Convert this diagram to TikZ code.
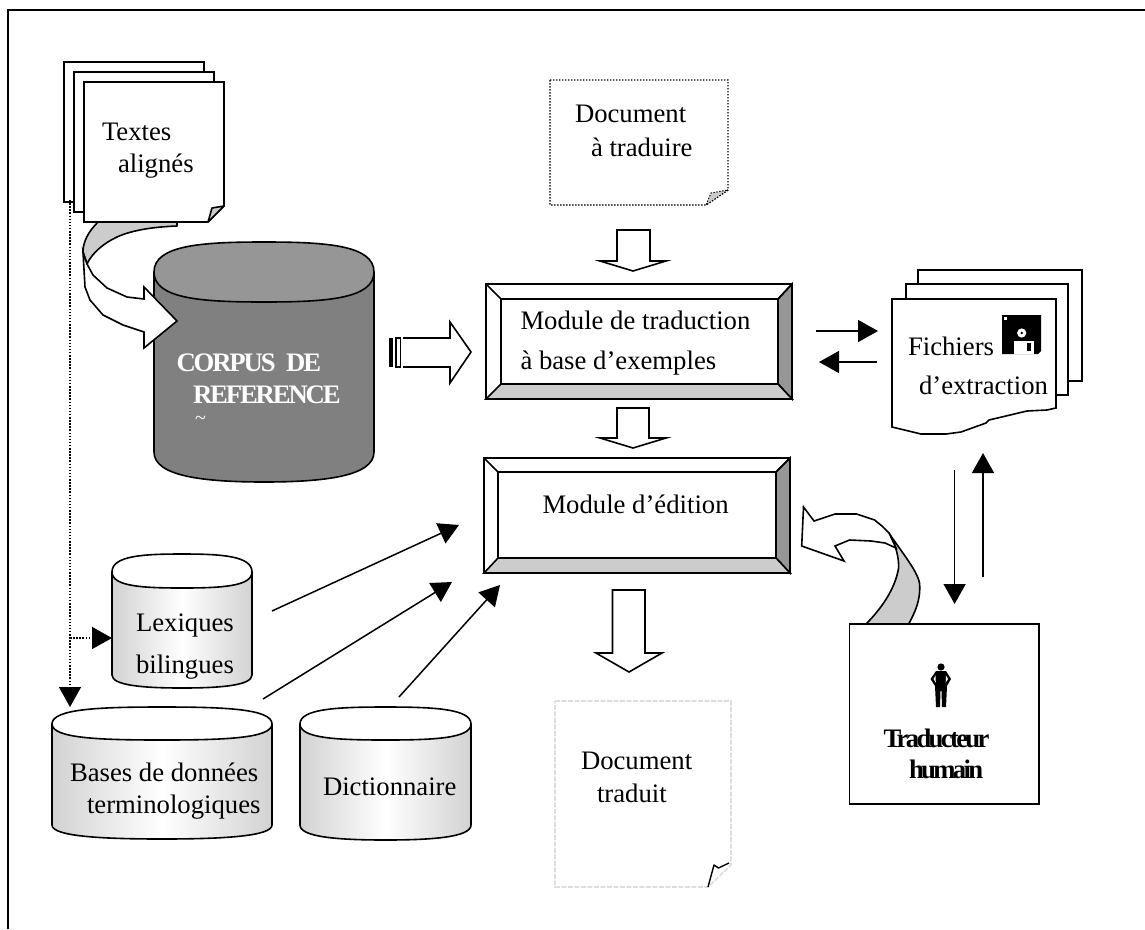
\documentclass[tikz,border=0pt]{standalone}
\usepackage{fontspec}
\setmainfont{Liberation Serif}
\usetikzlibrary{arrows.meta}
\definecolor{ribbon}{HTML}{CCCCCC}
\definecolor{bevel}{HTML}{969696}
\definecolor{corpusbody}{HTML}{808080}
\definecolor{sidegrey}{HTML}{D2D2D2}
\tikzset{
  sheet/.style={draw=black,fill=white,line width=1.6pt,line join=miter},
  shape line/.style={draw=black,line width=1.6pt,line join=round},
  hollow/.style={draw=black,fill=white,line width=1.6pt,line join=miter},
  label/.style={anchor=base west,inner sep=0pt,outer sep=0pt,text=black,font=\fontsize{26.7}{30}\selectfont},
  boldlabel/.style={label,font=\fontsize{26.7}{30}\selectfont\bfseries\addfontfeature{LetterSpace=-10}},
  corpuslabel/.style={label,text=white,font=\fontsize{26.7}{30}\selectfont\bfseries\addfontfeature{LetterSpace=-8}},
  link/.style={draw=black,line width=1.5pt,-{Triangle[length=20pt,width=22pt]}},
  dotlink/.style={draw=black,line width=1.5pt,dash pattern=on 1.5pt off 1.6pt,-{Triangle[length=20pt,width=22pt,sep=0pt]}},
}
% cylinder: style, left, right, top, mid, ellipse bottom, corner, bottom
\newcommand{\drumshape}[8]{%
  \pgfmathsetmacro{\cxm}{(#2+#3)/2}%
  \pgfmathsetmacro{\qa}{#2+(#3-#2)*.22}%
  \pgfmathsetmacro{\qb}{#3-(#3-#2)*.22}%
  \pgfmathsetmacro{\kc}{#7+(#8-#7)*.8}%
  \path[shape line,#1] (#2,#5) -- (#2,#7) .. controls (#2,\kc) and (\qa,#8) .. (\cxm,#8)
     .. controls (\qb,#8) and (#3,\kc) .. (#3,#7) -- (#3,#5) -- cycle;
}
% cylinder top: name, left, right, top, mid, ellipse bottom, fill
\newcommand{\drumtop}[7]{%
  \pgfmathsetmacro{\cxm}{(#2+#3)/2}%
  \pgfmathsetmacro{\qa}{#2+(#3-#2)*.22}%
  \pgfmathsetmacro{\qb}{#3-(#3-#2)*.22}%
  \pgfmathsetmacro{\ka}{#5-(#5-#4)*.9}%
  \pgfmathsetmacro{\kb}{#5+(#6-#5)*.9}%
  \path[shape line,fill=#7] (#2,#5) .. controls (#2,\ka) and (\qa,#4) .. (\cxm,#4)
     .. controls (\qb,#4) and (#3,\ka) .. (#3,#5)
     .. controls (#3,\kb) and (\qb,#6) .. (\cxm,#6)
     .. controls (\qa,#6) and (#2,\kb) .. (#2,#5) -- cycle;
  \coordinate (#1) at (\cxm,#5);
}
% bevelled box: left right top bottom, inner left right top bottom
\newcommand{\bevelbox}[8]{%
  \path[shape line,fill=white,line join=miter] (#1,#3) rectangle (#2,#4);
  \path[shape line,fill=bevel,line join=miter] (#2,#3) -- (#2,#4) -- (#6,#8) -- (#6,#7) -- cycle;
  \path[shape line,fill=ribbon,line join=miter] (#1,#4) -- (#2,#4) -- (#6,#8) -- (#5,#8) -- cycle;
  \path[shape line,line join=miter] (#1,#3) -- (#5,#7) (#2,#3) -- (#6,#7) (#5,#7) rectangle (#6,#8);
}
\begin{document}
\begin{tikzpicture}[x=1pt,y=-1pt]
\useasboundingbox (0,0) rectangle (1145,929);
% outer frame (left and top edges)
\draw[line width=1.8pt] (8,929) -- (8,10) -- (1145,10);

% ---- Textes alignes: stacked sheets
\path[sheet] (64,62) rectangle (204,202);
\path[sheet] (74,72) rectangle (214,212);

% ---- main cylinder
\drumshape{fill=corpusbody}{154}{374}{242}{272}{302}{452}{482}
\drumtop{main}{154}{374}{242}{272}{302}{bevel}

% ---- curved arrow from texts to corpus
\path[shape line,fill=ribbon] (98,222) .. controls (88,232) and (83,242) .. (83,252) -- (87,264)
   .. controls (92,253) and (104,243) .. (117,237) .. controls (130,231) and (150,227) .. (177,226) -- (177,222) -- cycle;
\path[shape line,fill=white,line join=miter] (83,252) -- (85,287) -- (90,300) -- (103,315) -- (123,325) -- (144,332)
   -- (144,348) -- (177,321) -- (144,287) -- (144,299) -- (127,297) -- (107,288) -- (93,275) -- (87,264) -- cycle;

\path[sheet] (84,82) -- (224,82) -- (224,206) -- (208,222) -- (84,222) -- cycle;
\path[shape line,fill=ribbon] (224,206) -- (208,222) -- (212,208) -- cycle;

\node[label] (textes) at (102,140) {Textes};
\node[label] (alignes) at (118,172) {alignés};

\node[corpuslabel] (corpus) at (176.5,371) {CORPUS\hspace{6pt} DE};
\node[corpuslabel] (reference) at (193,403) {REFERENCE};
\node[anchor=base west,inner sep=0pt,text=white,font=\fontsize{20}{22}\selectfont] (tilde) at (195,424) {\char"007E};

% ---- striped arrow corpus -> translation module
\fill (389,338) rectangle (393,367);
\path[draw=black,fill=white,line width=1.2pt] (396,338) rectangle (400.5,367);
\path[hollow] (403,338) -- (450,338) -- (450,322) -- (471,352) -- (450,383) -- (450,367) -- (403,367);

% ---- document a traduire
\path[draw=black,line width=1.4pt,dash pattern=on 1.4pt off 1.6pt] (550,80) -- (728,80) -- (728,190) -- (706,205) -- (550,205) -- cycle;
\path[fill=ribbon,draw=black,line width=1pt,dash pattern=on 1.4pt off 1.6pt] (728,190) -- (706,205) -- (711,193) -- cycle;
\node[label] (doca) at (575,122) {Document};
\node[label] (docb) at (591,156) {à traduire};

% ---- block arrows
\path[hollow] (617,230) -- (650,230) -- (650,261) -- (666,261) -- (633,271) -- (600,261) -- (617,261) -- cycle;
\path[hollow] (617,408) -- (649,408) -- (649,438) -- (666,438) -- (633,448) -- (600,438) -- (617,438) -- cycle;
\path[hollow] (612.5,590) -- (645,590) -- (645,653) -- (662,653) -- (629,672) -- (596,653) -- (612.5,653) -- cycle;

% ---- modules
\bevelbox{486}{792}{284}{399}{501}{778}{299}{384}
\node[label] (modta) at (520.5,329) {Module de traduction};
\node[label] (modtb) at (520.5,369) {à base d’exemples};
\bevelbox{484}{790}{458}{573}{498}{776}{472}{558}
\node[label] (moded) at (542.5,513) {Module d’édition};

% ---- fichiers d'extraction stack
\path[sheet] (918,270) rectangle (1082,381);
\path[sheet] (906,284) rectangle (1068,395);
\path[sheet] (892,299) -- (1056,299) -- (1056,408) -- (1047,410) -- (1027,411) -- (989,420) -- (986,423)
   -- (961,432) -- (946,434) -- (921,434) -- (892,427) -- cycle;
\node[label] (fica) at (908,355) {Fichiers};
\node[label] (ficb) at (919,394) {d’extraction};
% floppy icon
\fill (1002,315) -- (1041,315) -- (1041,351) -- (1038,354) -- (1002,354) -- cycle;
\fill[white] (1004,316.5) rectangle (1007,320);
\fill[white] (1021.7,333) circle (4.6);
\fill (1021.7,333) circle (1.4);
\fill[white] (1014,341) rectangle (1034,354);
\fill (1027,343) rectangle (1031,351);

% ---- connectors module <-> fichiers
\coordinate (ra) at (816,331); \coordinate (rb) at (878,331);
\coordinate (la) at (877,362); \coordinate (lb) at (819,362);
\draw[link] (ra) -- (rb);
\draw[link] (la) -- (lb);
\coordinate (da) at (954.6,470); \coordinate (db) at (954.6,604);
\coordinate (ua) at (983,577); \coordinate (ub) at (983,453);
\draw[link] (da) -- (db);
\draw[link] (ua) -- (ub);

% ---- traducteur
\path[draw=black,fill=white,line width=1.6pt] (849.5,624) rectangle (1039,804);
\fill (941,667) circle (3.6);
\fill (936,671) -- (946,671) -- (951,679) -- (947,686) -- (946,707) -- (942,707) -- (941.5,691) -- (940.5,691) -- (940,707) -- (936,707) -- (935,686) -- (930.5,679) -- cycle;
\fill[white] (933.5,679) -- (935.5,675.5) -- (935.8,682.5) -- cycle;
\fill[white] (948,679) -- (946,675.5) -- (945.7,682.5) -- cycle;
\node[boldlabel] (traa) at (883.5,747) {Traducteur};
\node[boldlabel] (trab) at (909,778) {humain};

% ---- curved arrow traducteur -> edition
\path[shape line,fill=ribbon] (866,624) .. controls (880,610) and (895,590) .. (898.6,568)
  .. controls (899,558) and (896,545) .. (889,533) .. controls (900,550) and (917,570) .. (919.5,583)
  .. controls (921,600) and (915,612) .. (908.7,624) -- cycle;
\path[shape line,fill=white,line join=miter] (889,533) -- (882,526) -- (874.6,520) -- (856.6,514) -- (835,514) -- (814,521) -- (803.5,507)
  -- (801.7,546) -- (844,561) -- (835,546) -- (849.5,540) -- (871,541) -- (885,543) -- (896,548) -- cycle;

% ---- lower-left cylinders
\drumshape{left color=sidegrey,right color=sidegrey,middle color=white}{112}{252}{554}{572}{588}{675}{688}
\drumtop{lex}{112}{252}{554}{572}{588}{white}
\drumshape{left color=sidegrey,right color=sidegrey,middle color=white}{52}{272}{707}{724}{740}{825}{839}
\drumtop{bases}{52}{272}{707}{724}{740}{white}
\drumshape{left color=sidegrey,right color=sidegrey,middle color=white}{300}{471}{707}{724}{740}{825}{840}
\drumtop{dico}{300}{471}{707}{724}{740}{white}
\node[label] (lexa) at (136,631) {Lexiques};
\node[label] (lexb) at (136,673) {bilingues};
\node[label] (basa) at (70,781) {Bases de données};
\node[label] (basb) at (87,813) {terminologiques};
\node[label] (dic) at (323,795) {Dictionnaire};

% ---- connectors to edition module
\coordinate (e1a) at (272,611); \coordinate (e1b) at (459,525);
\coordinate (e2a) at (263,699); \coordinate (e2b) at (452,582);
\coordinate (e3a) at (399,697); \coordinate (e3b) at (500,585);
\draw[link] (e1a) -- (e1b);
\draw[link] (e2a) -- (e2b);
\draw[link] (e3a) -- (e3b);

% ---- dotted connectors
\coordinate (dot0) at (70,200); \coordinate (dot1) at (70,707);
\coordinate (dot2) at (70,638); \coordinate (dot3) at (112,638);
\draw[dotlink] (dot0) -- (dot1);
\draw[dotlink] (dot2) -- (dot3);

% ---- document traduit
\path[draw=black!13,line width=1.8pt,dash pattern=on 5pt off 1.5pt] (555,701) -- (731,701) -- (731,865) -- (708,887) -- (555,887) -- cycle;
\node[label] (dtra) at (581,769) {Document};
\node[label] (dtrb) at (597,802) {traduit};
\draw[line width=1.4pt,line join=round] (708,887) -- (714,865) -- (718.5,868) -- (729,863);
\end{tikzpicture}
\end{document}
